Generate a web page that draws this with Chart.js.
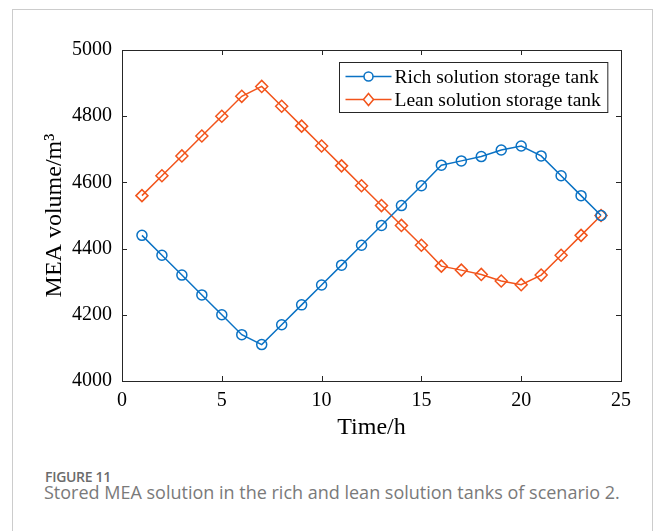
<!DOCTYPE html>
<html>
<head>
<meta charset="utf-8">
<script src="https://cdn.jsdelivr.net/npm/chart.js@4.4.1/dist/chart.umd.min.js"></script>
<style>
  html, body { margin: 0; padding: 0; background: #fff; width: 657px; height: 531px; overflow: hidden; }
  #card { position: absolute; left: 12px; top: 9px; width: 641px; height: 600px; border: 1px solid #cccccc; box-sizing: border-box; }
  #wrap { position: absolute; left: 0; top: 0; width: 657px; height: 460px; }
  #fig { position: absolute; left: 45px; top: 467px; font-family: "Open Sans", sans-serif; font-weight: 600; font-size: 14px; color: #6b6b6b; letter-spacing: -0.3px; }
  #cap { position: absolute; left: 44px; top: 480px; font-family: "Open Sans", sans-serif; font-weight: 400; font-size: 18px; color: #7a7a7a; white-space: nowrap; }
</style>
</head>
<body>
<div id="card"></div>
<div id="wrap"><canvas id="c" width="657" height="460"></canvas></div>
<div id="fig">FIGURE 11</div>
<div id="cap">Stored MEA solution in the rich and lean solution tanks of scenario 2.</div>
<script>
const hours = [1,2,3,4,5,6,7,8,9,10,11,12,13,14,15,16,17,18,19,20,21,22,23,24];
const richTank = [4440,4380,4320,4260,4200,4140,4110,4170,4230,4290,4350,4410,4470,4530,4590,4652,4665,4678,4698,4710,4680,4620,4560,4500];
const leanTank = [4560,4620,4680,4740,4800,4860,4890,4830,4770,4710,4650,4590,4530,4470,4410,4347,4335,4322,4302,4291,4320,4380,4440,4500];
const seriesNames = ["Rich solution storage tank", "Lean solution storage tank"];
const xTicks = [0,5,10,15,20,25];
const yTicks = [4000,4200,4400,4600,4800,5000];

const BLUE = '#0a72c4';
const ORANGE = '#f2541b';
const AXIS = '#262626';
const SERIF = '"Liberation Serif", "Times New Roman", serif';

function toPts(vals){ return hours.map((h,i)=>({x:h, y:vals[i]})); }

const framePlugin = {
  id: 'frame',
  afterDatasetsDraw(chart){
    const {ctx, chartArea:a, scales:{x, y}} = chart;
    ctx.save();
    ctx.strokeStyle = AXIS;
    ctx.lineWidth = 1;
    const tl = 5;
    ctx.beginPath();
    xTicks.forEach(v=>{
      const px = Math.round(x.getPixelForValue(v)) + 0.5;
      ctx.moveTo(px, a.bottom); ctx.lineTo(px, a.bottom - tl);
      ctx.moveTo(px, a.top); ctx.lineTo(px, a.top + tl);
    });
    yTicks.forEach(v=>{
      const py = Math.round(y.getPixelForValue(v)) + 0.5;
      ctx.moveTo(a.left, py); ctx.lineTo(a.left + tl, py);
      ctx.moveTo(a.right, py); ctx.lineTo(a.right - tl, py);
    });
    ctx.stroke();
    ctx.strokeRect(Math.round(a.left)+0.5, Math.round(a.top)+0.5, Math.round(a.right-a.left), Math.round(a.bottom-a.top));
    ctx.restore();
  },
  afterDraw(chart){
    const {ctx, chartArea:a} = chart;
    ctx.save();
    ctx.font = '19.5px ' + SERIF;
    const tw = Math.max(...seriesNames.map(s=>ctx.measureText(s).width));
    const w = 56 + tw + 6;
    const h = 50;
    const bx = Math.round(a.right - 14 - w) + 0.5;
    const by = Math.round(a.top + 12) + 0.5;
    ctx.fillStyle = '#fff';
    ctx.fillRect(bx, by, w, h);
    ctx.strokeStyle = AXIS;
    ctx.lineWidth = 1;
    ctx.strokeRect(bx, by, w, h);
    chart.data.datasets.forEach((ds, i)=>{
      const cy = by + 14 + i*23;
      ctx.strokeStyle = ds.borderColor;
      ctx.lineWidth = 1.5;
      ctx.beginPath();
      ctx.moveTo(bx + 6, cy); ctx.lineTo(bx + 52, cy);
      ctx.stroke();
      const mx = bx + 29;
      ctx.beginPath();
      if (i === 0) {
        ctx.arc(mx, cy, 4.5, 0, Math.PI*2);
      } else {
        ctx.moveTo(mx, cy-6); ctx.lineTo(mx+5, cy); ctx.lineTo(mx, cy+6); ctx.lineTo(mx-5, cy); ctx.closePath();
      }
      ctx.fillStyle = '#fff';
      ctx.fill();
      ctx.stroke();
      ctx.fillStyle = '#000';
      ctx.textBaseline = 'middle';
      ctx.textAlign = 'left';
      ctx.fillText(seriesNames[i], bx + 55, cy + 1);
    });
    ctx.restore();
  }
};

new Chart(document.getElementById('c'), {
  type: 'line',
  data: {
    datasets: [
      { label: seriesNames[0], data: toPts(richTank), borderColor: BLUE, backgroundColor: 'rgba(0,0,0,0)',
        borderWidth: 1.5, pointStyle: 'circle', pointRadius: 5, pointBorderWidth: 1.5, pointBorderColor: BLUE,
        pointBackgroundColor: 'rgba(0,0,0,0)', tension: 0 },
      { label: seriesNames[1], data: toPts(leanTank), borderColor: ORANGE, backgroundColor: 'rgba(0,0,0,0)',
        borderWidth: 1.5, pointStyle: 'rectRot', pointRadius: 6, pointBorderWidth: 1.5, pointBorderColor: ORANGE,
        pointBackgroundColor: 'rgba(0,0,0,0)', tension: 0 }
    ]
  },
  options: {
    responsive: false,
    animation: false,
    devicePixelRatio: 1,
    layout: { padding: { left: 40, top: 50, right: 36, bottom: 18 } },
    plugins: { legend: { display: false }, tooltip: { enabled: false } },
    scales: {
      x: {
        type: 'linear', min: 0, max: 25,
        afterBuildTicks: s => { s.ticks = xTicks.map(v=>({value:v})); },
        afterFit: s => { s.height = 61; },
        grid: { display: false, drawTicks: false },
        border: { display: false },
        ticks: { color: '#000', font: { family: SERIF, size: 20 }, padding: 8, maxRotation: 0, callback: v => String(v) },
        title: { display: true, text: 'Time/h', color: '#000', font: { family: SERIF, size: 24 }, padding: 0 }
      },
      y: {
        type: 'linear', min: 4000, max: 5000,
        afterBuildTicks: s => { s.ticks = yTicks.map(v=>({value:v})); },
        afterFit: s => { s.width = 82; },
        grid: { display: false, drawTicks: false },
        border: { display: false },
        ticks: { color: '#000', font: { family: SERIF, size: 20 }, padding: 10, callback: v => String(v) },
        title: { display: true, text: 'MEA volume/m³', color: '#000', font: { family: SERIF, size: 24 }, padding: 0 }
      }
    }
  },
  plugins: [framePlugin]
});
</script>
</body>
</html>
